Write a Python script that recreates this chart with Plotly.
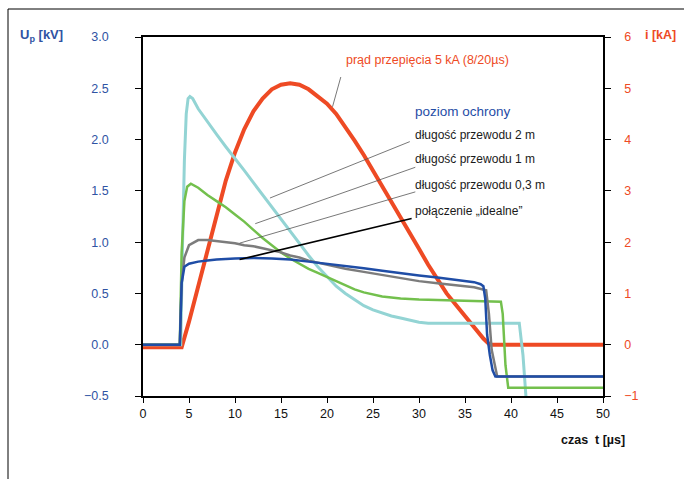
import plotly.graph_objects as go

# --- data ---
t_red = [0, 4.2, 5, 6, 7, 8, 9, 10, 11, 12, 13, 14, 15, 16, 17, 18, 19, 20, 21, 22, 23, 24,
         25, 26, 27, 28, 29, 30, 31, 32, 33, 34, 35, 36, 37, 37.7, 50]
i_red = [-0.05, -0.05, 0.45, 1.15, 1.85, 2.55, 3.2, 3.75, 4.2, 4.55, 4.8, 4.98, 5.07, 5.1,
         5.07, 4.98, 4.85, 4.7, 4.5, 4.25, 3.98, 3.7, 3.4, 3.1, 2.8, 2.5, 2.18, 1.87, 1.56,
         1.27, 1.0, 0.78, 0.55, 0.33, 0.12, 0.0, 0.0]

t_2m = [0, 4.1, 4.3, 4.5, 4.7, 4.9, 5.1, 5.4, 6, 7, 8, 9, 10, 11, 12, 13, 14, 15, 16, 17, 18,
        19, 20, 21, 22, 23, 24, 25, 26, 27, 28, 29, 30, 31, 32, 36, 40.9, 41.3, 41.7]
u_2m = [0.0, 0.0, 1.0, 1.8, 2.25, 2.4, 2.42, 2.4, 2.3, 2.17, 2.05, 1.93, 1.82, 1.7, 1.58,
        1.46, 1.34, 1.22, 1.1, 0.98, 0.87, 0.76, 0.66, 0.57, 0.5, 0.44, 0.38, 0.34, 0.31,
        0.28, 0.26, 0.24, 0.22, 0.21, 0.21, 0.21, 0.21, -0.1, -0.6]

t_1m = [0, 4.0, 4.2, 4.5, 4.8, 5.2, 6, 7, 8, 9, 10, 11, 12, 13, 14, 15, 16, 17, 18, 19, 20,
        21, 22, 23, 24, 25, 26, 27, 28, 30, 35, 38.9, 39.1, 39.3, 39.4, 39.7, 50]
u_1m = [0.0, 0.0, 0.9, 1.4, 1.54, 1.57, 1.53, 1.46, 1.4, 1.34, 1.27, 1.2, 1.12, 1.04, 0.97,
        0.9, 0.84, 0.79, 0.74, 0.7, 0.66, 0.62, 0.58, 0.54, 0.51, 0.49, 0.47, 0.46, 0.45,
        0.44, 0.43, 0.42, 0.3, -0.1, -0.2, -0.42, -0.42]

t_03m = [0, 4.0, 4.2, 4.5, 5, 6, 7, 8, 9, 10, 11, 12, 13, 14, 15, 16, 17, 18, 19, 20, 22,
         24, 26, 28, 30, 32, 34, 36, 37.3, 37.6, 37.9, 38.2, 38.5, 50]
u_03m = [0.0, 0.0, 0.6, 0.85, 0.97, 1.02, 1.02, 1.01, 1.0, 0.99, 0.97, 0.96, 0.94, 0.92,
         0.9, 0.87, 0.85, 0.82, 0.8, 0.78, 0.74, 0.71, 0.68, 0.65, 0.62, 0.6, 0.58, 0.56,
         0.53, 0.3, -0.05, -0.2, -0.31, -0.31]

t_ideal = [0, 4.0, 4.2, 4.5, 5, 6, 7, 8, 10, 12, 14, 16, 18, 20, 22, 24, 26, 28, 30, 32, 34,
           36, 36.7, 37.0, 37.2, 37.4, 37.7, 38.0, 38.3, 50]
u_ideal = [0.0, 0.0, 0.6, 0.76, 0.79, 0.81, 0.82, 0.83, 0.84, 0.845, 0.84, 0.83, 0.81,
           0.79, 0.77, 0.745, 0.72, 0.695, 0.675, 0.655, 0.635, 0.61, 0.59, 0.57, 0.45,
           0.1, -0.1, -0.25, -0.31, -0.31]

x_ticks = [0, 5, 10, 15, 20, 25, 30, 35, 40, 45, 50]

RED = "#ee4a24"
CYAN = "#93d4d4"
GREEN = "#73c04d"
GRAY = "#7c7c7c"
BLUE = "#1f4da6"
AXBLUE = "#2f53a3"
FONT = "Liberation Sans, Arial, sans-serif"

fig = go.Figure()
fig.add_trace(go.Scatter(x=t_red, y=i_red, mode="lines",
                         line=dict(color=RED, width=4),
                         yaxis="y", name="prąd"))
fig.add_trace(go.Scatter(x=t_2m, y=u_2m, mode="lines", line=dict(color=CYAN, width=3),
                         yaxis="y2", name="2 m"))
fig.add_trace(go.Scatter(x=t_1m, y=u_1m, mode="lines", line=dict(color=GREEN, width=2.5),
                         yaxis="y2", name="1 m"))
fig.add_trace(go.Scatter(x=t_03m, y=u_03m, mode="lines", line=dict(color=GRAY, width=2.5),
                         yaxis="y2", name="0,3 m"))
fig.add_trace(go.Scatter(x=t_ideal, y=u_ideal, mode="lines", line=dict(color=BLUE, width=2.5),
                         yaxis="y2", name="idealne"))

W, H = 684, 479
L, R, T, B = 143, 81, 37, 83
pw, ph = W - L - R, H - T - B


def px(x):
    return (x - L) / pw


def py(y):
    return (H - B - y) / ph


shapes = [
    # outer frame
    dict(type="line", xref="paper", yref="paper", x0=px(8), x1=px(700), y0=py(9), y1=py(9),
         line=dict(color="black", width=1)),
    dict(type="line", xref="paper", yref="paper", x0=px(8), x1=px(8), y0=py(9), y1=py(500),
         line=dict(color="black", width=1)),
    # leader lines
    dict(type="line", xref="x", yref="y2", x0=21.5, y0=2.61, x1=20.6, y1=2.32,
         line=dict(color="#555", width=0.8)),
    dict(type="line", xref="x", yref="y2", x0=29.0, y0=1.98, x1=13.8, y1=1.43,
         line=dict(color="#555", width=0.8)),
    dict(type="line", xref="x", yref="y2", x0=29.6, y0=1.73, x1=12.2, y1=1.18,
         line=dict(color="#555", width=0.8)),
    dict(type="line", xref="x", yref="y2", x0=29.6, y0=1.49, x1=10.5, y1=0.99,
         line=dict(color="#555", width=0.8)),
    dict(type="line", xref="x", yref="y2", x0=29.2, y0=1.23, x1=10.5, y1=0.83,
         line=dict(color="black", width=1.6)),
]

ann = []


def label(text, x, y, color="#1a1a1a", size=12, xanchor="left"):
    ann.append(dict(text=text, xref="paper", yref="paper", x=px(x), y=py(y),
                    xanchor=xanchor, yanchor="middle", showarrow=False,
                    font=dict(color=color, size=size, family=FONT)))


label("prąd przepięcia 5 kA (8/20µs)", 344, 60, color=RED, size=12.5)
label("poziom ochrony", 413, 112, color=BLUE, size=13.5)
label("długość przewodu 2 m", 413, 135)
label("długość przewodu 1 m", 413, 159)
label("długość przewodu 0,3 m", 413, 185)
label("połączenie „idealne”", 413, 211)
label("<b>U<sub>p</sub> [kV]</b>", 18, 35, color=AXBLUE, size=13)
label("<b>i [kA]</b>", 643, 35, color=RED, size=12.5)
label("<b>czas  t [µs]</b>", 627, 440, color="#111", size=12.5, xanchor="right")

fig.update_layout(
    width=W, height=H,
    margin=dict(l=L, r=R, t=T, b=B, pad=0),
    paper_bgcolor="white", plot_bgcolor="white",
    showlegend=False,
    font=dict(family=FONT, size=12),
    shapes=shapes, annotations=ann,
    xaxis=dict(range=[0, 50], tickvals=x_ticks, showgrid=False, zeroline=False,
               showline=True, linecolor="black", linewidth=1.5, mirror=True,
               ticks="outside", ticklen=5, tickcolor="black", tickwidth=1.2,
               tickfont=dict(color="#111", size=12.5), fixedrange=True),
    yaxis=dict(range=[-1, 6], dtick=1, side="right", showgrid=False, zeroline=False,
               showline=True, linecolor="black", linewidth=1.5,
               ticks="outside", ticklen=6, tickcolor="black", tickwidth=1.2,
               ticklabelstandoff=11,
               tickfont=dict(color=RED, size=12.5)),
    yaxis2=dict(range=[-0.5, 3.0], dtick=0.5, tickformat=".1f", side="left",
                overlaying="y", showgrid=False, zeroline=False,
                showline=True, linecolor="black", linewidth=1.5,
                ticks="outside", ticklen=6, tickcolor="black", tickwidth=1.2,
                ticklabelstandoff=24,
                tickfont=dict(color=AXBLUE, size=12.5)),
)

fig.write_html("out.html", config={"displayModeBar": False},
               post_script="document.body.style.margin='0';")
